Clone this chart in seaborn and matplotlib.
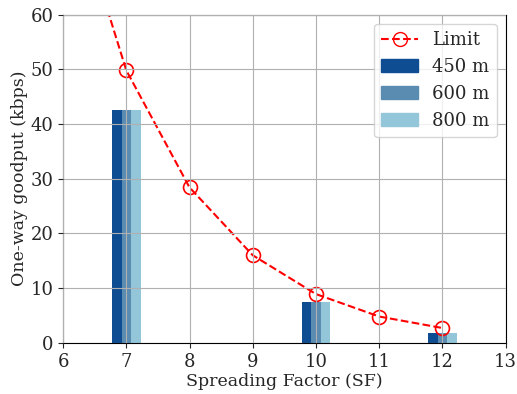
import numpy as np
import pandas as pd
import matplotlib
matplotlib.use("Agg")
import matplotlib.pyplot as plt
import seaborn as sns
from matplotlib.lines import Line2D
from matplotlib.patches import Patch

# data
sf_limit = [6, 7, 8, 9, 10, 11, 12]
limit_kbps = [87.0, 49.8, 28.4, 16.0, 8.9, 4.8, 2.7]

sf_bars = [7, 10, 12]
distances = ["450 m", "600 m", "800 m"]
goodput_450 = [42.6, 7.5, 1.8]
goodput_600 = [42.6, 7.5, 1.8]
goodput_800 = [42.6, 7.5, 1.8]

colors = ["#0e4d91", "#5a8cb2", "#94c6da"]

rows = []
for dist, vals in zip(distances, [goodput_450, goodput_600, goodput_800]):
    for sf, v in zip(sf_bars, vals):
        rows.append({"SF": sf, "goodput": v, "dist": dist})
df = pd.DataFrame(rows)
df_lim = pd.DataFrame({"SF": sf_limit, "limit": limit_kbps})

sns.set_style("white")
plt.rcParams["font.family"] = ["DejaVu Serif"]
plt.rcParams["font.size"] = 13

fig, ax = plt.subplots(figsize=(5.17, 3.94), dpi=100)

sns.barplot(data=df, x="SF", y="goodput", hue="dist", palette=colors,
            native_scale=True, width=0.225, gap=0, errorbar=None,
            ax=ax, legend=False, saturation=1, linewidth=0)
sns.lineplot(data=df_lim, x="SF", y="limit", ax=ax, color="red",
             linestyle="--", marker="o", markersize=10, markerfacecolor="none",
             markeredgecolor="red", markeredgewidth=1.2, linewidth=1.5)

ax.set_xlim(6, 13)
ax.set_ylim(0, 60)
ax.set_xticks(range(6, 14))
ax.set_yticks(range(0, 61, 10))
ax.grid(True, color="#b0b0b0", linewidth=0.8)
ax.set_axisbelow(False)
for s in ax.spines.values():
    s.set_color("black")
ax.tick_params(direction="out", length=3.5, bottom=True, left=True, labelsize=13)
ax.set_xlabel("Spreading Factor (SF)", fontsize=12.5, labelpad=2)
ax.set_ylabel("One-way goodput (kbps)", fontsize=12.5, labelpad=2)

handles = [Line2D([], [], color="red", linestyle="--", marker="o", markersize=10,
                  markerfacecolor="none", markeredgecolor="red", linewidth=1.5)]
handles += [Patch(color=c) for c in colors]
ax.legend(handles, ["Limit"] + distances, loc="upper right", fontsize=13)

plt.subplots_adjust(left=0.122, right=0.978, top=0.963, bottom=0.13)
fig.savefig("out.png", dpi=100)
